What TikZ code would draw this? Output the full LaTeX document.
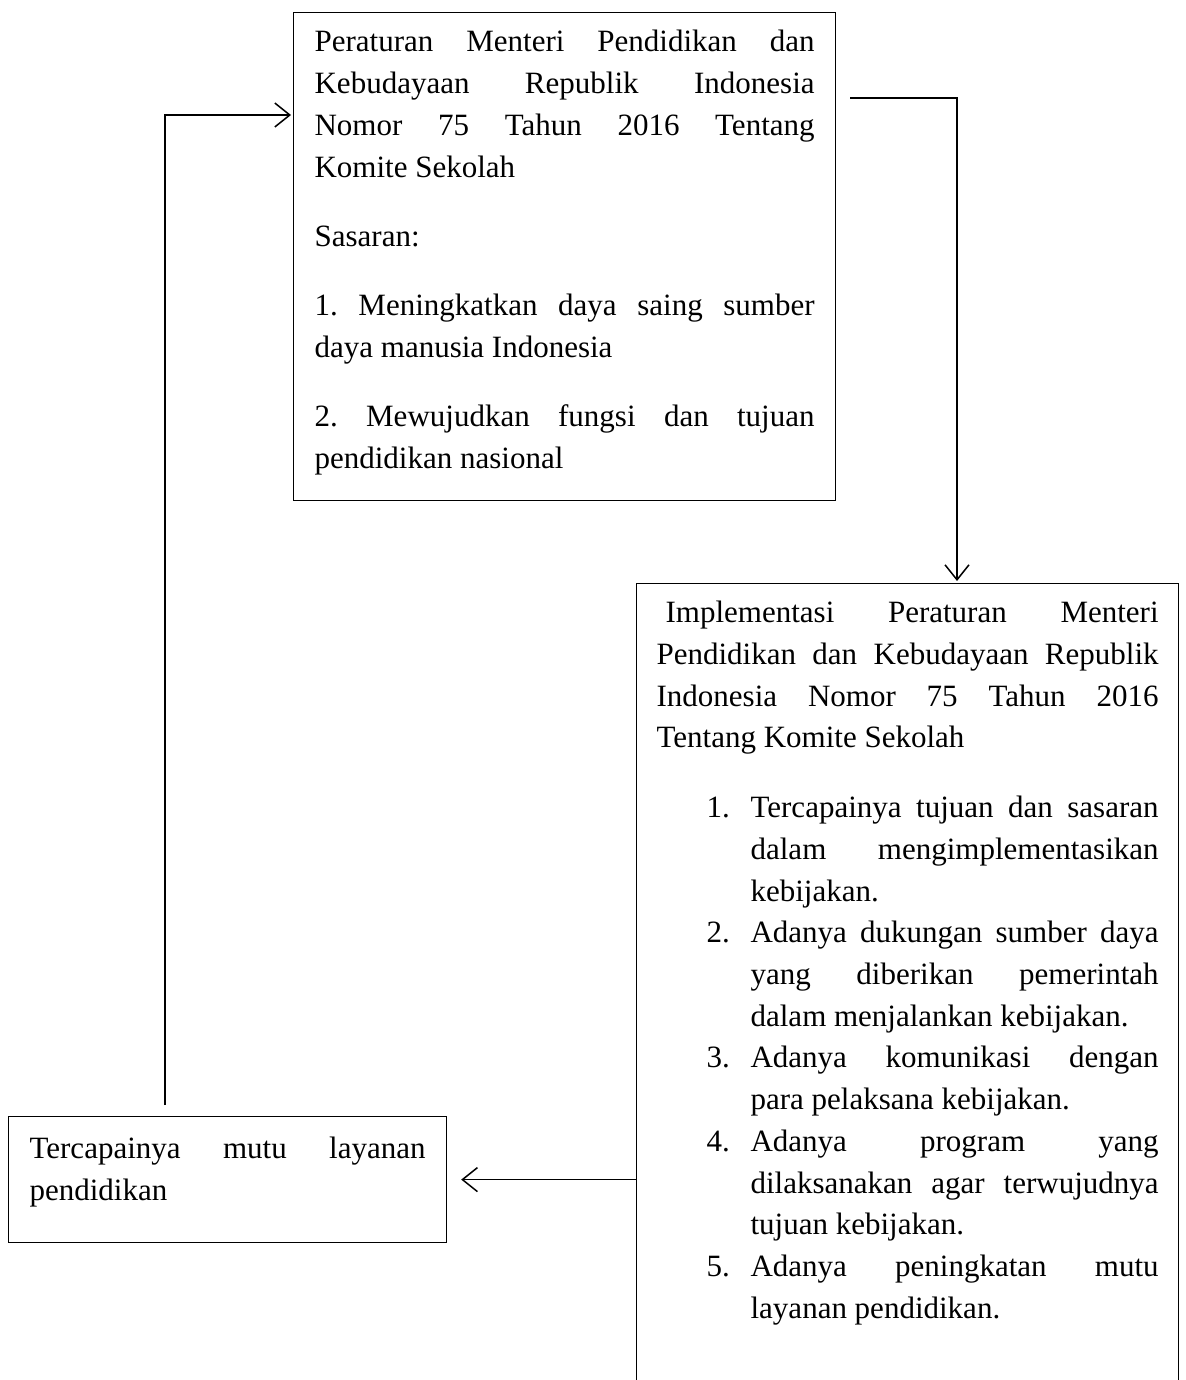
\documentclass[tikz,border=0pt]{standalone}
\usepackage{fontspec}
\setmainfont{Liberation Serif}
\usetikzlibrary{arrows.meta}
\frenchspacing

\newcommand{\boxfont}{\fontsize{31}{41.7}\selectfont\frenchspacing}
\newcommand{\numitem}[2]{\hangindent=94pt\hangafter=1\hspace*{50pt}\makebox[44pt][l]{#1}#2\par}

\tikzset{
  textbox/.style={draw, line width=1.2pt, anchor=north west, inner ysep=0pt, align=justify, font=\boxfont},
  link/.style={line width=1.5pt, -{Straight Barb[length=15pt,width=24pt]}}
}

\begin{document}
\begin{tikzpicture}[x=1pt, y=-1pt]

\useasboundingbox (0,0) rectangle (1185,1380);
\clip (0,0) rectangle (1185,1380);

\node[textbox, text width=500pt, inner xsep=21pt, execute at begin node={\setlength{\parskip}{27.7pt}}] (perm) at (293,12) {\rule{0pt}{39.4pt}Peraturan Menteri Pendidikan dan\linebreak Kebudayaan Republik Indonesia\linebreak Nomor 75 Tahun 2016 Tentang\linebreak Komite Sekolah\par
Sasaran:\par
1. Meningkatkan daya saing sumber\linebreak daya manusia Indonesia\par
2. Mewujudkan fungsi dan tujuan\linebreak pendidikan nasional\rule[-31.6pt]{0pt}{0pt}};

\node[textbox, text width=502pt, inner xsep=20pt] (impl) at (636,583) {\rule{0pt}{39pt}\hspace*{9pt}Implementasi Peraturan Menteri\linebreak Pendidikan dan Kebudayaan Republik\linebreak Indonesia Nomor 75 Tahun 2016\linebreak Tentang Komite Sekolah\par
\vspace{28.3pt}
\numitem{1.}{Tercapainya tujuan dan sasaran\linebreak dalam mengimplementasikan\linebreak kebijakan.}
\numitem{2.}{Adanya dukungan sumber daya\linebreak yang diberikan pemerintah\linebreak dalam menjalankan kebijakan.}
\numitem{3.}{Adanya komunikasi dengan\linebreak para pelaksana kebijakan.}
\numitem{4.}{Adanya program yang\linebreak dilaksanakan agar terwujudnya\linebreak tujuan kebijakan.}
\numitem{5.}{Adanya peningkatan mutu\linebreak layanan pendidikan.\rule[-120pt]{0pt}{0pt}}};

\node[textbox, text width=396pt, inner xsep=21pt] (mutu) at (8,1116) {\rule{0pt}{42pt}Tercapainya mutu layanan\linebreak pendidikan\rule[-42.3pt]{0pt}{0pt}};

\draw[link] ([xshift=157pt,yshift=11pt]mutu.north west) |- ([xshift=-2pt,yshift=-103pt]perm.north west);

\draw[link] ([xshift=14pt,yshift=-86pt]perm.north east) -| ([xshift=321pt,yshift=2pt]impl.north west);

\draw[link] (impl.west |- mutu.east) -- ([xshift=14pt]mutu.east);

\end{tikzpicture}
\end{document}
